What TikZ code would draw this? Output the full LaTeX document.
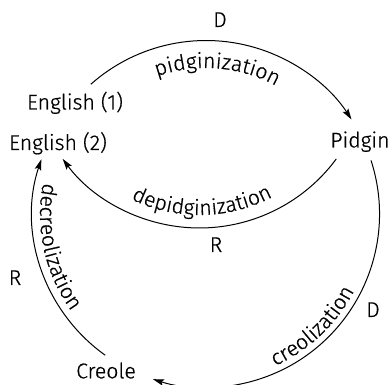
\documentclass[tikz,border=0pt]{standalone}
\usepackage{fontspec}
\setmainfont{Fira Sans}[UprightFont=* Light, UprightFeatures={FakeBold=0.6}]
\usetikzlibrary{arrows.meta,decorations.text,calc}
\newcommand\lblfont{\fontsize{21.3}{25}\selectfont}
\begin{document}
\begin{tikzpicture}[x=1pt,y=1pt,
  lbl/.style={font=\lblfont, inner sep=0pt, anchor=base},
  conn/.style={line width=1pt, -{Stealth[length=11pt,width=6.5pt,inset=2pt]}},
  arctext/.style={decorate, decoration={text along path, text align=center, text={|\lblfont|#1}}}
  ]
\useasboundingbox (0,0) rectangle (389,385);
\coordinate (O) at (206,171);
\coordinate (Q) at (199.5,327);
% nodes
\node[lbl] (e1) at (75,275.5) {English (1)};
\node[lbl] (e2) at (58,235) {English (2)};
\node[lbl] (pid) at (360,237.5) {Pidgin};
\node[lbl] (cre) at (106,6.7) {Creole};
\node[lbl] (d1) at (220,358) {D};
\node[lbl] (r1) at (216,133) {R};
\node[lbl] (r2) at (15,100) {R};
\node[lbl] (d2) at (373,68) {D};
% arcs
\draw[conn] ($(O)+(131.6:173.5)$) arc[start angle=131.6, end angle=33, radius=173.5];
\draw[conn] ($(O)+(18:173.5)$) arc[start angle=18, end angle=-107.8, radius=173.5];
\draw[conn] ($(O)+(-125.5:173.5)$) arc[start angle=-125.5, end angle=-198.4, radius=173.5];
\draw[conn] ($(Q)+(-36.4:170)$) arc[start angle=-36.4, end angle=-143.6, radius=170];
% arc labels
\path[arctext=pidginization] ($(O)+(125.5:146)$) arc[start angle=125.5, end angle=45.5, radius=146];
\path[arctext=depidginization] ($(Q)+(-139:157)$) arc[start angle=-139, end angle=-39, radius=157];
\path[arctext=decreolization] ($(O)+(152.5:166)$) arc[start angle=152.5, end angle=232.5, radius=166];
\path[arctext=creolization] ($(O)+(-86.5:167)$) arc[start angle=-86.5, end angle=-6.5, radius=167];
\end{tikzpicture}
\end{document}
